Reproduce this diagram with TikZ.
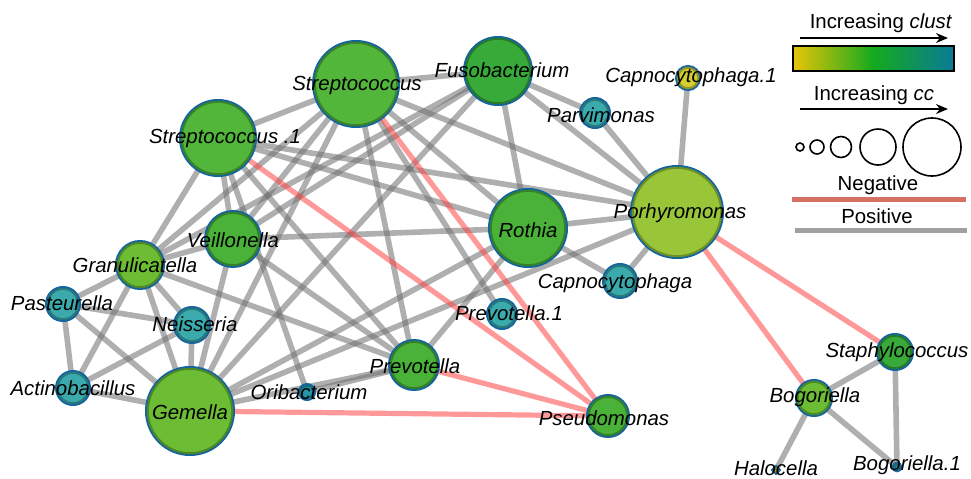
\documentclass[tikz,border=0pt]{standalone}
\usepackage{fontspec}
\setmainfont{Liberation Sans}
\usetikzlibrary{arrows.meta,backgrounds}
\definecolor{net@blue}{RGB}{20,100,160}
\definecolor{net@grey}{RGB}{110,110,110}
\definecolor{net@red}{RGB}{255,70,70}
\definecolor{leg@red}{RGB}{215,112,100}
\definecolor{leg@grey}{RGB}{160,160,160}
\definecolor{grad@yellow}{RGB}{232,196,8}
\definecolor{grad@green}{RGB}{20,170,30}
\definecolor{grad@teal}{RGB}{10,122,150}
\definecolor{tx@green}{RGB}{82,182,58}
\definecolor{tx@dark}{RGB}{56,170,58}
\definecolor{tx@mid}{RGB}{74,178,56}
\definecolor{tx@lime}{RGB}{108,188,52}
\definecolor{tx@olive}{RGB}{152,198,56}
\definecolor{tx@yellow}{RGB}{212,206,48}
\definecolor{tx@teal}{RGB}{58,170,172}
\definecolor{tx@sea}{RGB}{40,150,170}
\tikzset{
  net/.style={
    x=0.5pt, y=-0.5pt,
    font=\fontsize{10.2}{12}\selectfont,
    >={Stealth[length=6pt,width=5pt]}
  },
  taxon/.style={                   % coloured circle, blue rim
    circle, inner sep=0pt,
    fill=#1, draw=#1!72!black, line width=1pt,
    preaction={draw=net@blue, line width=2.8pt}
  },
  taxlab/.style={font=\fontsize{10.2}{12}\selectfont\itshape, inner sep=0pt},
  posedge/.style={draw=net@grey, line width=2.8pt, draw opacity=0.55},
  negedge/.style={draw=net@red, line width=2.6pt, draw opacity=0.55},
  legarrow/.style={->, line width=0.8pt}
}
\begin{document}
\begin{tikzpicture}[net]
\useasboundingbox (0,0) rectangle (971,478);

% taxa
\node[taxon=tx@green,  minimum size=41.2pt] (strep)  at (356,84)  {};
\node[taxon=tx@dark,   minimum size=32.2pt] (fuso)   at (498,71)  {};
\node[taxon=tx@green,  minimum size=36.2pt] (strepA) at (218,138) {};
\node[taxon=tx@yellow, minimum size=10.2pt] (capnoA) at (688,78)  {};
\node[taxon=tx@teal,   minimum size=13.2pt] (parv)   at (595,113) {};
\node[taxon=tx@olive,  minimum size=44.2pt] (porh)   at (677,212) {};
\node[taxon=tx@mid,    minimum size=37.2pt] (rothia) at (528,228) {};
\node[taxon=tx@teal,   minimum size=15.2pt] (capno)  at (620,281) {};
\node[taxon=tx@mid,    minimum size=26.2pt] (veil)   at (233,239) {};
\node[taxon=tx@lime,   minimum size=22.2pt] (gran)   at (140,265) {};
\node[taxon=tx@teal,   minimum size=15.2pt] (past)   at (63,304)  {};
\node[taxon=tx@teal,   minimum size=16.2pt] (neis)   at (192,325) {};
\node[taxon=tx@teal,   minimum size=15.2pt] (act)    at (73,388)  {};
\node[taxon=tx@lime,   minimum size=42.2pt] (gem)    at (190,411) {};
\node[taxon=tx@sea,    minimum size=6.2pt]  (orib)   at (307,392) {};
\node[taxon=tx@mid,    minimum size=23.2pt] (prev)   at (414,365) {};
\node[taxon=tx@teal,   minimum size=13.2pt] (prevA)  at (502,314) {};
\node[taxon=tx@mid,    minimum size=19.2pt] (pseud)  at (608,416) {};
\node[taxon=tx@dark,   minimum size=16.2pt] (staph)  at (895,352) {};
\node[taxon=tx@lime,   minimum size=16.2pt] (bog)    at (814,398) {};
\node[taxon=tx@yellow, minimum size=1.4pt]  (halo)   at (776,470) {};
\node[taxon=tx@sea,    minimum size=2.4pt]  (bogA)   at (897,467) {};

% associations
\begin{scope}[on background layer]
\foreach \a/\b in {strep/fuso, strep/strepA, strep/porh, strep/rothia, strep/gran,
    strep/veil, strep/gem, strep/prev, strep/prevA,
    strepA/porh, strepA/rothia, strepA/veil, strepA/gran, strepA/prev, strepA/orib,
    fuso/parv, fuso/porh, fuso/rothia, fuso/gran, fuso/gem, fuso/veil,
    parv/porh, capnoA/porh, porh/rothia, porh/capno, porh/gem,
    rothia/veil, rothia/capno, rothia/prev, rothia/gem,
    veil/gran, veil/gem, veil/prev,
    gran/past, gran/act, gran/neis, gran/gem, gran/prev,
    past/act, past/neis, past/gem,
    neis/act, neis/gem, act/gem, gem/prev, orib/prev,
    staph/bog, staph/bogA, bog/bogA, bog/halo}
  \draw[posedge] (\a.center) -- (\b.center);
\foreach \a/\b in {strepA/pseud, strep/pseud, prev/pseud, gem/pseud, porh/staph, porh/bog}
  \draw[negedge] (\a.center) -- (\b.center);
\end{scope}

% names
\node[taxlab] (strep-t)  at (357,85)  {Streptococcus};
\node[taxlab] (fuso-t)   at (502,70)  {Fusobacterium};
\node[taxlab] (strepA-t) at (225,138) {Streptococcus .1};
\node[taxlab] (capnoA-t) at (691,77)  {Capnocytophaga.1};
\node[taxlab] (parv-t)   at (601,115) {Parvimonas};
\node[taxlab] (porh-t)   at (680,213) {Porhyromonas};
\node[taxlab] (rothia-t) at (528,230) {Rothia};
\node[taxlab] (capno-t)  at (615,283) {Capnocytophaga};
\node[taxlab] (veil-t)   at (233,240) {Veillonella};
\node[taxlab] (gran-t)   at (135,265) {Granulicatella};
\node[taxlab] (past-t)   at (62,303)  {Pasteurella};
\node[taxlab] (neis-t)   at (195,324) {Neisseria};
\node[taxlab] (act-t)    at (73,388)  {Actinobacillus};
\node[taxlab] (gem-t)    at (190,412) {Gemella};
\node[taxlab] (orib-t)   at (309,392) {Oribacterium};
\node[taxlab] (prev-t)   at (415,366) {Prevotella};
\node[taxlab] (prevA-t)  at (509,313) {Prevotella.1};
\node[taxlab] (pseud-t)  at (604,418) {Pseudomonas};
\node[taxlab] (staph-t)  at (897,352) {Staphylococcus};
\node[taxlab] (bog-t)    at (815,397) {Bogoriella};
\node[taxlab] (halo-t)   at (776,468) {Halocella};
\node[taxlab] (bogA-t)   at (907,465) {Bogoriella.1};

% legend
\node (clust-t) at (881,23) {Increasing \textit{clust}};
\coordinate (clust-a) at (800,38);
\coordinate (clust-b) at (948,38);
\draw[legarrow] (clust-a) -- (clust-b);
\shadedraw[left color=grad@yellow, right color=grad@teal, middle color=grad@green,
  draw=black, line width=1pt] (793,46) rectangle (954,71);
\node (cc-t) at (874,95) {Increasing \textit{cc}};
\coordinate (cc-a) at (800,109);
\coordinate (cc-b) at (948,109);
\draw[legarrow] (cc-a) -- (cc-b);
\draw[line width=0.8pt] (800,147) circle (4) (817,147) circle (7)
  (841,147) circle (10.5) (878,147) circle (18) (932,147) circle (29);
\node (neg-t) at (878,185) {Negative};
\fill[leg@red] (792,196.5) rectangle (966,201.5);
\node (pos-t) at (877,216) {Positive};
\fill[leg@grey] (795,228) rectangle (967,233);
\end{tikzpicture}
\end{document}
